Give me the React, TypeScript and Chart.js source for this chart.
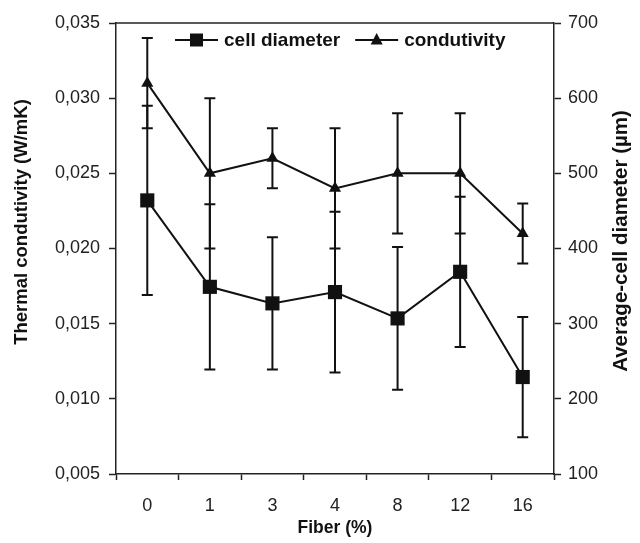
import React, { useEffect, useRef } from 'react';
import { Chart, registerables } from 'chart.js';

Chart.register(...registerables);

const fiberLabels = ['0', '1', '3', '4', '8', '12', '16'];
const cellDiameter = [464, 349, 327, 342, 307, 369, 229];
const cellDiameterErr = [126, 110, 88, 107, 95, 100, 80];
const conductivity = [0.031, 0.025, 0.026, 0.024, 0.025, 0.025, 0.021];
const conductivityErr = [0.003, 0.005, 0.002, 0.004, 0.004, 0.004, 0.002];

const leftTicks = { min: 0.005, max: 0.035, step: 0.005 };
const rightTicks = { min: 100, max: 700, step: 100 };

const leftTitle = 'Thermal condutivity (W/mK)';
const rightTitle = 'Average-cell diameter (µm)';
const xTitle = 'Fiber (%)';

const FONT = '"Liberation Sans", Arial, Helvetica, sans-serif';
const INK = '#111';
const AXIS = '#222';

const errorBarsPlugin = {
  id: 'errorBars',
  afterDatasetsDraw(chart: any) {
    const ctx = chart.ctx;
    chart.data.datasets.forEach((ds: any, di: number) => {
      const meta = chart.getDatasetMeta(di);
      const scale = chart.scales[meta.yAxisID];
      const errs: number[] = ds.errors || [];
      meta.data.forEach((pt: any, i: number) => {
        const v = ds.data[i];
        const e = errs[i];
        if (e == null) return;
        const yTop = scale.getPixelForValue(v + e);
        const yBot = scale.getPixelForValue(v - e);
        const cap = 5.5;
        ctx.save();
        ctx.strokeStyle = INK;
        ctx.lineWidth = 2;
        ctx.beginPath();
        ctx.moveTo(pt.x, yTop);
        ctx.lineTo(pt.x, yBot);
        ctx.moveTo(pt.x - cap, yTop);
        ctx.lineTo(pt.x + cap, yTop);
        ctx.moveTo(pt.x - cap, yBot);
        ctx.lineTo(pt.x + cap, yBot);
        ctx.stroke();
        ctx.restore();
      });
    });
  },
};

const frameLegendTitlesPlugin = {
  id: 'frameLegendTitles',
  afterDraw(chart: any) {
    const ctx = chart.ctx;
    const area = chart.chartArea;
    ctx.save();
    // top frame line
    ctx.strokeStyle = AXIS;
    ctx.lineWidth = 1.5;
    ctx.beginPath();
    ctx.moveTo(area.left, area.top);
    ctx.lineTo(area.right, area.top);
    ctx.stroke();

    // vertical axis titles (both read bottom-to-top)
    ctx.fillStyle = INK;
    ctx.textAlign = 'center';
    ctx.textBaseline = 'middle';
    ctx.save();
    ctx.translate(22, area.top + 199);
    ctx.rotate(-Math.PI / 2);
    ctx.font = `bold 18.5px ${FONT}`;
    ctx.fillText(leftTitle, 0, 0);
    ctx.restore();
    ctx.save();
    ctx.translate(chart.width - 19, area.top + 218);
    ctx.rotate(-Math.PI / 2);
    ctx.font = `bold 20.5px ${FONT}`;
    ctx.fillText(rightTitle, 0, 0);
    ctx.restore();

    // legend inside the plot area
    const y = area.top + 17;
    let x = area.left + 59;
    ctx.textAlign = 'left';
    ctx.font = `bold 19px ${FONT}`;
    const items = [
      { label: chart.data.datasets[0].label, style: chart.data.datasets[0].pointStyle },
      { label: chart.data.datasets[1].label, style: chart.data.datasets[1].pointStyle },
    ];
    items.forEach((it) => {
      const lineLen = 43;
      ctx.strokeStyle = INK;
      ctx.lineWidth = 2;
      ctx.beginPath();
      ctx.moveTo(x, y);
      ctx.lineTo(x + lineLen, y);
      ctx.stroke();
      const cx = x + lineLen / 2;
      ctx.beginPath();
      if (it.style === 'rect') {
        ctx.rect(cx - 6.5, y - 6.5, 13, 13);
      } else {
        ctx.moveTo(cx, y - 7);
        ctx.lineTo(cx + 6, y + 4.5);
        ctx.lineTo(cx - 6, y + 4.5);
        ctx.closePath();
      }
      ctx.fill();
      ctx.fillText(it.label, x + lineLen + 6, y + 1);
      x += lineLen + 6 + ctx.measureText(it.label).width + 15;
    });
    ctx.restore();
  },
};

export default function App() {
  const canvasRef = useRef<HTMLCanvasElement | null>(null);

  useEffect(() => {
    if (!canvasRef.current) return;
    Chart.defaults.font.family = FONT;
    const chart = new Chart(canvasRef.current, {
      type: 'line',
      data: {
        labels: fiberLabels,
        datasets: [
          {
            label: 'cell diameter',
            data: cellDiameter,
            errors: cellDiameterErr,
            yAxisID: 'y1',
            borderColor: INK,
            backgroundColor: INK,
            borderWidth: 2,
            pointStyle: 'rect',
            pointRadius: 10,
            pointBorderWidth: 0,
            pointBackgroundColor: INK,
          } as any,
          {
            label: 'condutivity',
            data: conductivity,
            errors: conductivityErr,
            yAxisID: 'y',
            borderColor: INK,
            backgroundColor: INK,
            borderWidth: 2,
            pointStyle: 'triangle',
            pointRadius: 7,
            pointBorderWidth: 0,
            pointBackgroundColor: INK,
          } as any,
        ],
      },
      options: {
        responsive: false,
        animation: false,
        layout: { padding: { top: 23, left: 0, right: 0, bottom: 0 } },
        plugins: {
          legend: { display: false },
          tooltip: { enabled: false },
        },
        scales: {
          x: {
            type: 'category',
            offset: true,
            grid: {
              display: true,
              offset: true,
              drawOnChartArea: false,
              drawTicks: true,
              tickLength: 6,
              tickWidth: 1.5,
              tickColor: AXIS,
            },
            border: { display: true, color: AXIS, width: 1.5 },
            ticks: { color: '#222', font: { size: 18, family: FONT }, padding: 15, maxRotation: 0 },
            title: {
              display: true,
              text: xTitle,
              color: INK,
              font: { size: 17.5, weight: 'bold', family: FONT },
              padding: { top: 0, bottom: 4 },
            },
            afterFit: (s: any) => {
              s.height = 69;
            },
          },
          y: {
            type: 'linear',
            position: 'left',
            min: leftTicks.min,
            max: leftTicks.max,
            grid: {
              drawOnChartArea: false,
              drawTicks: true,
              tickLength: 7,
              tickWidth: 1.5,
              tickColor: AXIS,
            },
            border: { display: true, color: AXIS, width: 1.5 },
            ticks: {
              stepSize: leftTicks.step,
              color: '#222',
              font: { size: 18, family: FONT },
              padding: 9,
              callback: (v: any) => Number(v).toFixed(3).replace('.', ','),
            },
            title: { display: false },
            afterFit: (s: any) => {
              s.width = 116;
            },
          },
          y1: {
            type: 'linear',
            position: 'right',
            min: rightTicks.min,
            max: rightTicks.max,
            grid: {
              drawOnChartArea: false,
              drawTicks: true,
              tickLength: 7,
              tickWidth: 1.5,
              tickColor: AXIS,
            },
            border: { display: true, color: AXIS, width: 1.5 },
            ticks: {
              stepSize: rightTicks.step,
              color: '#222',
              font: { size: 18, family: FONT },
              padding: 7,
            },
            title: { display: false },
            afterFit: (s: any) => {
              s.width = 86;
            },
          },
        },
      } as any,
      plugins: [errorBarsPlugin, frameLegendTitlesPlugin],
    });
    return () => chart.destroy();
  }, []);

  return (
    <div style={{ position: 'absolute', left: 0, top: 0, width: 640, height: 543, background: '#fff' }}>
      <canvas ref={canvasRef} width={640} height={543} />
    </div>
  );
}
